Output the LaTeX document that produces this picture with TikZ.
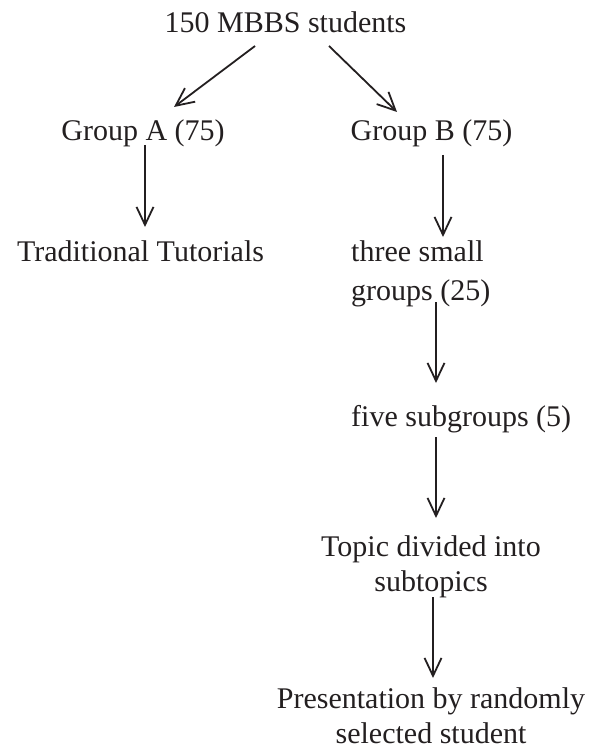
\documentclass[tikz,border=0pt]{standalone}
\usepackage{fontspec}
\setmainfont{Liberation Serif}
\usetikzlibrary{arrows.meta,calc}
\definecolor{ink}{HTML}{231F20}
\begin{document}
\begin{tikzpicture}[x=1pt,y=-1pt,
  lbl/.style={inner sep=0pt,anchor=base,font=\fontsize{30}{35}\selectfont,text=ink},
  lblml/.style={lbl,anchor=base west,align=left},
  lblmc/.style={lbl,align=center},
  arr/.style={draw=ink,line width=1.8pt,-{Straight Barb[length=18pt,width=17pt,line width=1.8pt]}}]
\useasboundingbox (0,0) rectangle (594,751);
\node[lbl] (top) at (285.5,33) {150 MBBS students};
\node[lbl] (ga) at (143,141) {Group A (75)};
\node[lbl] (gb) at (431.5,141) {Group B (75)};
\node[lbl] (trad) at (140.5,261) {Traditional Tutorials};
\node[lblml] (three) at (351,300) {three small\\[4pt]groups (25)};
\node[lblml] (five) at (351,426) {five subgroups (5)};
\node[lblmc] (topic) at (431,591) {Topic divided into\\subtopics};
\node[lblmc] (pres) at (431,743) {Presentation by randomly\\selected student};
\draw[arr] ($(top.base)+(-30.5,13)$) -- ($(ga.base)+(31,-34)$);
\draw[arr] ($(top.base)+(43.5,13)$) -- ($(gb.base)+(-34.5,-29)$);
\draw[arr] ($(ga.base)+(2,4)$) -- ($(trad.base)+(4.5,-34)$);
\draw[arr] ($(gb.base)+(11.5,14)$) -- ($(three.base west)+(92,-63)$);
\draw[arr] ($(three.base west)+(85,2)$) -- ($(five.base west)+(85,-43)$);
\draw[arr] ($(five.base west)+(85,11)$) -- ($(topic.base)+(5,-73)$);
\draw[arr] ($(topic.base)+(2,6)$) -- ($(pres.base)+(2,-65)$);
\end{tikzpicture}
\end{document}
